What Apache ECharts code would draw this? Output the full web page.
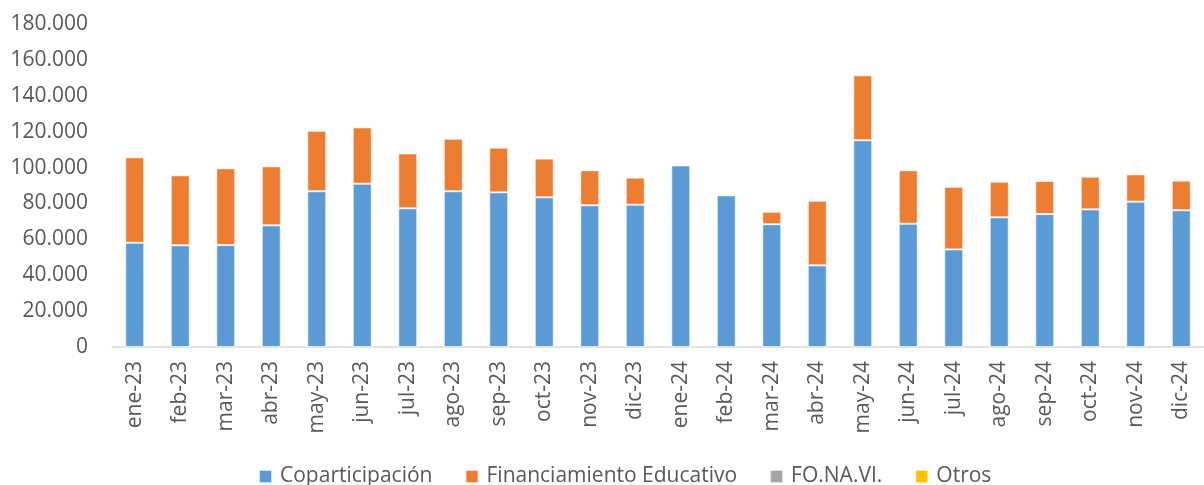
<!DOCTYPE html>
<html>
<head>
<meta charset="utf-8">
<script src="https://cdn.jsdelivr.net/npm/echarts@6/dist/echarts.min.js"></script>
<style>
html,body{margin:0;padding:0;background:#fff;}
#chart{width:1204px;height:485px;}
</style>
</head>
<body>
<div id="chart"></div>
<script>
const categories = ['ene-23','feb-23','mar-23','abr-23','may-23','jun-23','jul-23','ago-23','sep-23','oct-23','nov-23','dic-23',
                    'ene-24','feb-24','mar-24','abr-24','may-24','jun-24','jul-24','ago-24','sep-24','oct-24','nov-24','dic-24'];
const coparticipacion = [58100,56700,56800,67800,86800,91000,77300,86800,86200,83400,79000,79300,
                         101200,84500,68400,45500,115200,68700,54400,72300,74100,76700,81000,76200];
const financiamientoEducativo = [47600,39000,42800,32900,33700,31400,30600,29300,24900,21600,19500,15100,
                                 0,0,7000,36000,36200,29800,34900,19800,18400,18200,15200,16500];
const fonavi = [500,600,500,500,600,600,400,400,200,200,200,200,
                0,0,100,400,700,500,800,800,600,800,600,900];
const otros = [0,0,0,0,0,0,0,0,0,0,0,0,
               0,0,0,0,0,0,0,0,0,0,0,0];
const yTicks = {min:0, max:180000, interval:20000};

const FONT = '"Open Sans", "Noto Sans", sans-serif';
const TXT = '#595959';

function fmt(v){
  return String(v).replace(/\B(?=(\d{3})+(?!\d))/g, '.');
}

const chart = echarts.init(document.getElementById('chart'), null, {renderer:'canvas'});
const mk = (name, data, color) => ({
  name, type:'bar', stack:'total', data,
  barWidth:19,
  itemStyle:{color, borderColor:'rgba(255,255,255,0.7)', borderWidth:1},
  emphasis:{disabled:true}
});
chart.setOption({
  animation:false,
  textStyle:{fontFamily:FONT},
  grid:{left:112, top:24, width:1104, height:323, containLabel:false},
  legend:{
    left:253, top:461,
    icon:'rect', itemWidth:13, itemHeight:13, itemGap:32,
    textStyle:{fontFamily:FONT, fontSize:21, color:TXT, padding:[0,0,0,3]},
    data:['Coparticipación','Financiamiento Educativo','FO.NA.VI.','Otros']
  },
  xAxis:{
    type:'category', data:categories,
    axisLine:{show:true, lineStyle:{color:'#D9D9D9', width:1.5}},
    axisTick:{show:false},
    axisLabel:{interval:0, rotate:90, margin:14, fontFamily:FONT, fontSize:21, color:TXT}
  },
  yAxis:{
    type:'value', min:yTicks.min, max:yTicks.max, interval:yTicks.interval,
    axisLine:{show:false}, axisTick:{show:false}, splitLine:{show:false},
    axisLabel:{margin:24, fontFamily:FONT, fontSize:21, color:TXT, formatter:fmt}
  },
  series:[
    mk('Coparticipación', coparticipacion, '#5B9BD5'),
    mk('Financiamiento Educativo', financiamientoEducativo, '#ED7D31'),
    mk('FO.NA.VI.', fonavi, '#A5A5A5'),
    mk('Otros', otros, '#FFC000')
  ]
});
</script>
</body>
</html>
